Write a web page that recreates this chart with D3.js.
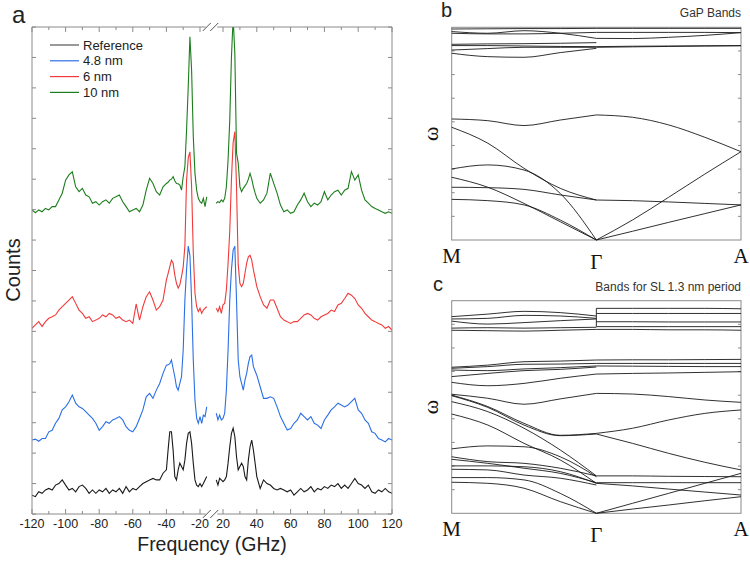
<!DOCTYPE html>
<html>
<head>
<meta charset="utf-8">
<script src="https://cdn.jsdelivr.net/npm/d3@7"></script>
<style>
  body { margin: 0; background: #fff; }
  svg { display: block; font-family: 'Liberation Sans', Arial, sans-serif; }
</style>
</head>
<body>
<div id="chart"></div>
<script>
// ---------- panel a : spectra ----------
var freqLeft = d3.range(-120, -39, 2).concat(d3.range(-39, -15, 1));   // GHz
var freqRight = d3.range(16, 40, 1).concat(d3.range(40, 121, 2));

var refLeft = [0.62,0.57,0.73,0.68,0.79,0.84,0.79,0.95,1.00,1.12, 0.95,0.79,0.84,0.73,0.90,0.95,0.84,0.68,0.79,0.68,
  0.79,0.73,0.84,0.68,0.79,0.73,0.84,0.68,0.90,0.73, 0.84,0.79,0.90,1.00,1.06,1.12,1.17,1.12,1.12,1.34, 1.45,
  2.10,2.70,2.70,2.10,1.23,1.12,1.45,1.67,1.56,1.45,1.77,2.32,2.65,2.70,2.32,1.67,1.12,0.95,0.90,1.00,0.90,1.00,1.12,1.23];
var refRight = [1.12,0.95,1.17,1.12,1.06,1.12,1.23,1.67,2.21,2.65,2.82,2.54,1.88,1.45,1.56,1.67,1.56,1.23,1.12,1.77,2.21,2.43,2.10,1.67,
  1.23,0.84,1.12,1.00,0.95,0.84,0.79,0.84,0.79,0.73, 0.79,0.62,0.73,0.84,0.73,0.79,0.90,0.73,0.84,0.79,
  0.90,0.84,0.95,0.90,1.00,0.84,0.95,0.84,1.00,1.17, 1.00,0.95,0.84,0.95,0.73,0.68,0.79,0.73,0.84,0.73, 0.68];

var nm48Left = [2.43,2.46,2.39,2.48,2.48,2.70,2.75,2.98,3.14,3.42, 3.52,3.69,3.91,3.64,3.52,3.47,3.36,3.25,3.14,2.98,
  2.75,2.87,3.03,2.98,3.09,3.14,3.20,3.09,2.87,2.75, 2.70,2.87,3.14,3.42,3.85,3.96,3.80,4.07,4.29,4.62, 4.89,
  4.90,4.94,5.06,4.78,4.51,4.18,4.07,4.29,4.51,5.39,7.03,8.02,8.80,8.50,7.03,5.06,3.75,3.15,2.98,3.20,2.98,3.25,3.20,3.52];
var nm48Right = [3.31,3.09,3.25,3.09,3.14,3.31,4.07,5.39,7.03,8.02,8.67,8.80,7.03,5.06,4.51,4.29,4.07,4.40,4.62,4.95,5.17,5.22,4.84,4.70,
  4.56,4.18,3.80,3.80,3.85,3.80,3.52,3.20,2.98,2.76, 2.81,2.98,3.09,3.31,3.20,3.09,3.20,2.98,2.92,2.81,
  3.09,3.25,3.42,3.52,3.64,3.58,3.52,3.58,3.69,3.80, 3.42,3.31,3.09,2.98,2.70,2.65,2.48,2.43,2.37,2.48, 2.43];

var nm6Left = [6.10,6.21,6.32,6.16,6.32,6.43,6.48,6.54,6.70,6.81, 6.92,7.03,7.14,6.92,6.70,6.59,6.43,6.48,6.32,6.37,
  6.43,6.54,6.48,6.59,6.54,6.43,6.48,6.37,6.32,6.37, 6.26,6.90,6.37,6.81,7.14,7.30,7.03,6.70,6.81,7.03, 7.69,
  7.90,8.12,8.34,8.24,7.85,7.58,7.42,7.53,7.80,8.12,8.80,10.97,11.70,11.90,10.75,8.60,7.26,6.81,6.65,6.76,6.59,6.70,6.76,6.81];
var nm6Right = [6.76,6.65,6.81,6.59,6.87,6.92,7.36,8.24,9.30,11.0,12.2,12.56,10.75,8.20,7.58,7.47,7.58,7.91,8.24,8.45,8.50,8.34,8.02,7.75,
  7.47,7.14,6.87,6.76,7.03,7.03,6.76,6.48,6.37,6.32, 6.26,6.32,6.32,6.43,6.54,6.59,6.54,6.43,6.37,6.48,
  6.54,6.59,6.70,6.65,6.87,6.92,7.08,7.25,7.19,7.08, 6.87,6.76,6.59,6.48,6.37,6.32,6.26,6.21,6.10,6.16, 6.04];

var nm10Left = [9.99,9.90,9.99,9.93,10.04,9.99,10.10,10.10,10.32,10.54, 10.97,11.14,11.24,10.75,10.59,10.70,10.48,10.42,10.21,10.26,
  10.15,10.26,10.32,10.21,10.37,10.42,10.48,10.26,10.10,9.93, 9.99,10.04,9.93,10.15,10.64,11.03,10.86,10.59,10.48,10.75, 10.86,
  10.90,10.97,11.00,11.08,10.95,10.86,10.85,10.81,10.64,11.08,11.41,12.61,14.04,15.68,14.59,12.40,11.20,10.64,10.37,10.26,10.21,10.37,10.10,10.42];
var nm10Right = [10.21,10.26,10.23,10.32,10.26,10.37,10.75,11.63,12.94,15.02,16.3,15.14,11.86,11.53,10.75,10.59,10.70,10.78,10.86,11.00,11.19,11.00,10.75,10.55,
  10.37,10.21,10.32,10.54,11.20,10.86,10.54,10.15,9.93,9.99, 9.88,9.93,10.15,10.32,10.54,10.26,10.10,10.21,10.15,10.26,
  10.59,10.32,10.48,10.59,10.64,10.48,10.64,10.70,11.25,10.97, 11.14,10.64,10.32,10.21,10.10,10.04,9.99,9.93,9.88,9.93, 9.88];

var seriesNames = ['Reference', '4.8 nm', '6 nm', '10 nm'];
var seriesColors = ['#1a1a1a', '#2b6fe6', '#f23a3a', '#1c7d1c'];
var tickLeft = [-120, -100, -80, -60, -40, -20];
var tickRight = [20, 40, 60, 80, 100, 120];

// ---------- panels b, c : phonon bands, sampled at M .. Γ .. A (9 points), ω in % of frame ----------
var kLabels = ['M', 'Γ', 'A'];
var gapBands = [
  [19.1, 18.5, 16.5, 9.4, 0, 4.1, 8.3, 12.4, 16.5],
  [29.5, 24.8, 17.2, 8.6, 0, 9.4, 20.1, 31.0, 41.5],
  [33.4, 35.3, 32.9, 21.9, 0, null, null, null, null],
  [24.8, 24.6, 23.8, 21.2, 18.8, 18.5, 17.9, 17.2, 16.5],
  [53.0, 45.5, 33.7, 24.3, 18.8, null, null, null, null],
  [56.9, 56.1, 53.8, 56.4, 58.8, 57.7, 54.1, 48.3, 41.5],
  [99.2, 99.3, 99.4, 99.4, 99.5, 99.5, 99.5, 99.5, 99.5],
  [98.0, 97.2, 98.4, 97.2, 94.8, 94.7, 95.3, 96.2, 97.5],
  [97.2, 96.9, 96.9, 97.2, 97.6, 97.6, 97.6, 97.6, 97.5],
  [92.0, 92.2, 92.3, 92.5, 92.8, null, null, null, null],
  [91.4, 91.4, 91.2, 91.0, 90.9, 91.1, 91.2, 91.3, 91.4],
  [89.3, 90.0, 90.6, 90.6, 90.6, 90.8, 91.0, 91.2, 91.3],
  [87.8, 86.2, 85.9, 88.1, 90.1, null, null, null, null]
];
var slBands = [
  [92.5, 93.7, 95.0, 94.4, 92.8, null, null, null, null],
  [91.4, 91.7, 93.1, 92.8, 91.7, null, null, null, null],
  [90.4, 89.0, 89.7, 90.6, 91.4, null, null, null, null],
  [87.1, 87.3, 87.1, 87.3, 87.5, null, null, null, null],
  [86.1, 85.9, 85.7, 86.1, 86.5, null, null, null, null],
  [null, null, null, null, 96.4, 96.4, 96.4, 96.4, 96.2],
  [null, null, null, null, 94.0, 94.0, 94.0, 94.0, 94.0],
  [null, null, null, null, 90.1, 90.1, 90.0, 90.0, 90.0],
  [null, null, null, null, 87.8, 87.8, 87.8, 87.8, 87.8],
  [null, null, null, null, 86.5, 86.5, 86.3, 86.3, 86.1],
  [68.7, 69.7, 71.3, 71.6, 72.1, 72.2, 72.2, 72.3, 72.4],
  [68.2, 69.0, 70.1, 70.2, 70.5, 70.5, 70.5, 70.5, 70.5],
  [67.4, 67.1, 67.9, 68.5, 69.3, 69.2, 69.1, 69.0, 69.0],
  [64.3, 65.8, 67.1, 67.7, 68.8, null, null, null, null],
  [61.6, 60.0, 61.1, 63.5, 65.5, 65.8, 66.0, 66.3, 66.6],
  [56.0, 54.1, 51.3, 53.8, 56.4, 56.1, 54.9, 53.3, 52.2],
  [55.6, 50.2, 42.3, 36.7, 37.6, 40.0, 43.9, 47.0, 48.6],
  [55.3, 49.8, 41.5, 36.5, 37.3, 32.9, 28.2, 24.0, 20.4],
  [52.5, 47.8, 40.0, 29.8, 17.6, 17.6, 17.4, 17.3, 17.2],
  [46.7, 41.5, 32.9, 25.1, 14.1, 12.9, 11.4, 10.0, 8.6],
  [30.3, 31.7, 31.3, 26.6, 17.2, null, null, null, null],
  [26.6, 24.3, 23.5, 21.2, 17.6, null, null, null, null],
  [25.4, 23.5, 21.2, 18.8, 14.4, 14.4, 14.4, 14.4, 14.4],
  [22.3, 22.3, 21.9, 19.6, 14.1, null, null, null, null],
  [20.7, 20.4, 18.0, 16.5, 13.3, null, null, null, null],
  [16.8, 16.8, 15.7, 9.4, 0, 4.7, 9.4, 14.1, 18.8],
  [14.6, 14.1, 11.8, 5.5, 0, 2.0, 3.9, 5.9, 7.8]
];
var slGammaJump = [96.4, 87.8];

// ---------- drawing ----------
var svg = d3.select('#chart').append('svg')
  .attr('width', 750).attr('height', 563);
svg.append('rect').attr('width', 750).attr('height', 563).attr('fill', '#fff');

var frameCol = '#8a8a8a';
var pa = { left: 32, right: 392, top: 27, bottom: 514 };

var xL = d3.scaleLinear().domain([-120, -20]).range([pa.left, 200]);
var xR = d3.scaleLinear().domain([20, 120]).range([223, pa.right]);
var yA = d3.scaleLinear().domain([0, 16]).range([pa.bottom, pa.top]);

svg.append('clipPath').attr('id', 'clipA').append('rect')
  .attr('x', pa.left).attr('y', pa.top)
  .attr('width', pa.right - pa.left).attr('height', pa.bottom - pa.top);

var gA = svg.append('g');
var traces = gA.append('g').attr('clip-path', 'url(#clipA)');

var seriesLeft = [refLeft, nm48Left, nm6Left, nm10Left];
var seriesRight = [refRight, nm48Right, nm6Right, nm10Right];

seriesLeft.forEach(function (vals, i) {
  var lineL = d3.line().x(function (d, j) { return xL(freqLeft[j]); }).y(function (d) { return yA(d); });
  var lineR = d3.line().x(function (d, j) { return xR(freqRight[j]); }).y(function (d) { return yA(d); });
  traces.append('path').datum(vals).attr('d', lineL)
    .attr('fill', 'none').attr('stroke', seriesColors[i]).attr('stroke-width', 1.1);
  traces.append('path').datum(seriesRight[i]).attr('d', lineR)
    .attr('fill', 'none').attr('stroke', seriesColors[i]).attr('stroke-width', 1.1);
});

// frame with broken x axis
var breakA = xL(-16), breakB = xR(16);
function hseg(y) {
  gA.append('line').attr('x1', pa.left).attr('x2', breakA - 1).attr('y1', y).attr('y2', y).attr('stroke', frameCol);
  gA.append('line').attr('x1', breakB + 1).attr('x2', pa.right).attr('y1', y).attr('y2', y).attr('stroke', frameCol);
  [breakA - 1, breakB - 3].forEach(function (bx) {
    gA.append('line').attr('x1', bx - 3).attr('y1', y + 4).attr('x2', bx + 5).attr('y2', y - 4)
      .attr('stroke', '#555').attr('stroke-width', 1);
  });
}
hseg(pa.top); hseg(pa.bottom);
gA.append('line').attr('x1', pa.left).attr('x2', pa.left).attr('y1', pa.top).attr('y2', pa.bottom).attr('stroke', frameCol);
gA.append('line').attr('x1', pa.right).attr('x2', pa.right).attr('y1', pa.top).attr('y2', pa.bottom).attr('stroke', frameCol);

// x ticks (inward, top and bottom)
function xTicks(scale, major, minor) {
  major.forEach(function (v) {
    [[pa.bottom, -5], [pa.top, 5]].forEach(function (p) {
      gA.append('line').attr('x1', scale(v)).attr('x2', scale(v)).attr('y1', p[0]).attr('y2', p[0] + p[1])
        .attr('stroke', frameCol);
    });
  });
  minor.forEach(function (v) {
    [[pa.bottom, -3], [pa.top, 3]].forEach(function (p) {
      gA.append('line').attr('x1', scale(v)).attr('x2', scale(v)).attr('y1', p[0]).attr('y2', p[0] + p[1])
        .attr('stroke', frameCol);
    });
  });
  gA.selectAll(null).data(major).enter().append('text')
    .attr('x', function (d) { return scale(d); }).attr('y', pa.bottom + 14)
    .attr('text-anchor', 'middle').style('font-size', '12.5px').attr('fill', '#222')
    .text(function (d) { return d; });
}
xTicks(xL, tickLeft, [-110, -90, -70, -50, -30]);
xTicks(xR, tickRight, [30, 50, 70, 90, 110]);

// y ticks (inward, both sides)
yA.ticks(16).forEach(function (v) {
  gA.append('line').attr('x1', pa.left).attr('x2', pa.left + 4).attr('y1', yA(v)).attr('y2', yA(v)).attr('stroke', frameCol);
  gA.append('line').attr('x1', pa.right).attr('x2', pa.right - 4).attr('y1', yA(v)).attr('y2', yA(v)).attr('stroke', frameCol);
});

gA.append('text').attr('x', 212).attr('y', 551).attr('text-anchor', 'middle')
  .style('font-size', '19.5px').attr('fill', '#222').text('Frequency (GHz)');
gA.append('text').attr('transform', 'translate(20,270) rotate(-90)').attr('text-anchor', 'middle')
  .style('font-size', '20px').attr('fill', '#222').text('Counts');
gA.append('text').attr('x', 12).attr('y', 23).style('font-size', '24px').attr('fill', '#222').text('a');

// legend
var leg = gA.append('g');
seriesNames.forEach(function (n, i) {
  var ly = 45 + i * 15.8;
  leg.append('line').attr('x1', 50).attr('x2', 79).attr('y1', ly).attr('y2', ly)
    .attr('stroke', i === 0 ? '#555' : seriesColors[i]).attr('stroke-width', 1.2);
  leg.append('text').attr('x', 83).attr('y', ly + 4.5).style('font-size', '13px').attr('fill', '#222').text(n);
});

// ---------- band panels ----------
var xK = d3.scaleLinear().domain([0, 8]).range([451.7, 741]);
var serif = "'Liberation Serif','Times New Roman',serif";

function bandPanel(top, bottom, bands, letter, letterX, title) {
  var yB = d3.scaleLinear().domain([0, 100]).range([bottom, top]);
  var g = svg.append('g');
  g.append('rect').attr('x', xK(0)).attr('y', top).attr('width', xK(8) - xK(0)).attr('height', bottom - top)
    .attr('fill', 'none').attr('stroke', frameCol);
  d3.range(1, 9).forEach(function (k) {
    var ty = yB(k * 100 / 9);
    g.append('line').attr('x1', xK(0)).attr('x2', xK(0) + 3).attr('y1', ty).attr('y2', ty).attr('stroke', frameCol);
    g.append('line').attr('x1', xK(8)).attr('x2', xK(8) - 3).attr('y1', ty).attr('y2', ty).attr('stroke', frameCol);
  });
  // each band drawn as two halves (M-Γ, Γ-A) so the cusp at Γ stays sharp
  var line = d3.line()
    .defined(function (d) { return d.v != null; })
    .x(function (d) { return xK(d.k); })
    .y(function (d) { return yB(d.v); })
    .curve(d3.curveMonotoneX);
  bands.forEach(function (b) {
    var pts = b.map(function (v, k) { return { k: k, v: v }; });
    [pts.slice(0, 5), pts.slice(4)].forEach(function (half) {
      g.append('path').datum(half).attr('d', line)
        .attr('fill', 'none').attr('stroke', '#1a1a1a').attr('stroke-width', 0.9);
    });
  });
  kLabels.forEach(function (t, i) {
    g.append('text').attr('x', xK(i * 4)).attr('y', bottom + (i === 1 ? 29 : 23))
      .attr('text-anchor', 'middle').style('font-family', serif).style('font-size', '21px')
      .attr('fill', '#111').text(t);
  });
  g.append('text').attr('transform', 'translate(438,' + ((top + bottom) / 2) + ') rotate(-90)')
    .attr('text-anchor', 'middle').style('font-family', serif).style('font-size', '22px')
    .attr('fill', '#111').text('ω');
  g.append('text').attr('x', letterX).attr('y', top - 10).style('font-size', '20px').attr('fill', '#222').text(letter);
  g.append('text').attr('x', 741).attr('y', top - 10).attr('text-anchor', 'end')
    .style('font-size', '12px').attr('fill', '#333').text(title);
  return { g: g, y: yB };
}

bandPanel(27.3, 240, gapBands, 'b', 441, 'GaP Bands');
var pc = bandPanel(300.7, 513.3, slBands, 'c', 433, 'Bands for SL 1.3 nm period');
pc.g.append('line').attr('x1', xK(4)).attr('x2', xK(4))
  .attr('y1', pc.y(slGammaJump[0])).attr('y2', pc.y(slGammaJump[1]))
  .attr('stroke', '#1a1a1a').attr('stroke-width', 0.9);
</script>
</body>
</html>
